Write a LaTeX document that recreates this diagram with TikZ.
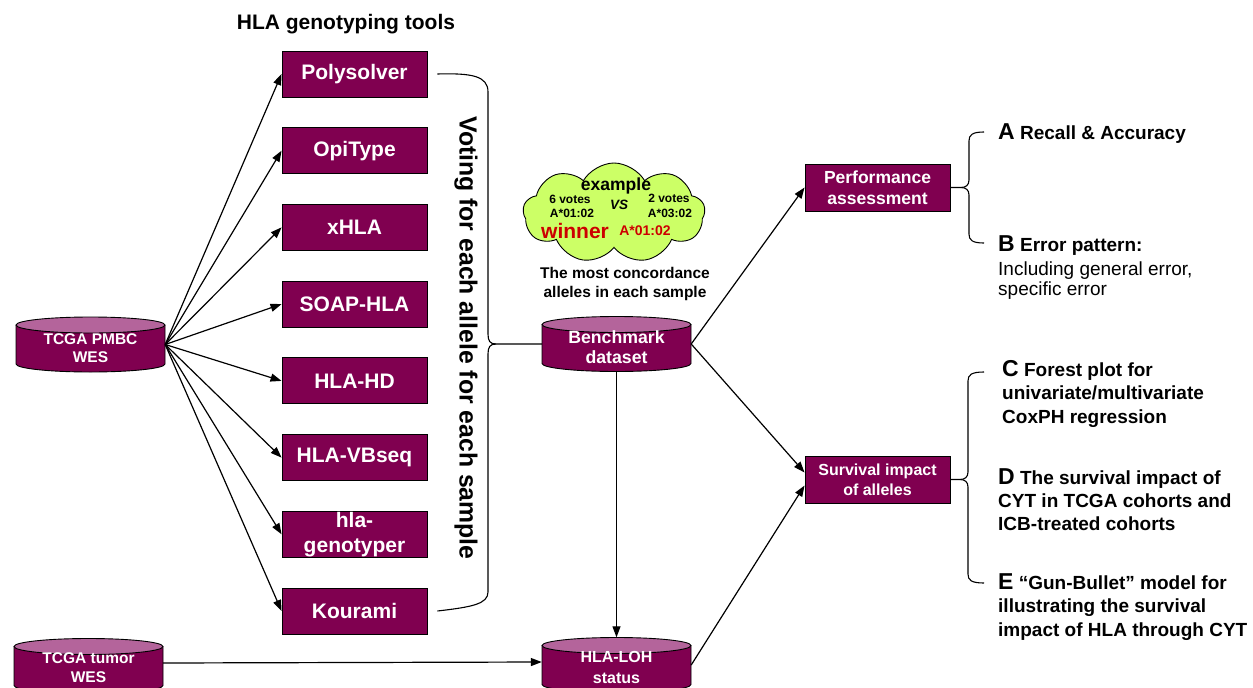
\documentclass[tikz,border=0pt]{standalone}
\usepackage{fontspec}
\setmainfont{Liberation Sans}
\usetikzlibrary{arrows.meta,shapes.symbols}
\definecolor{berry}{HTML}{800050}
\definecolor{cyltop}{HTML}{B4649B}
\definecolor{cloudg}{HTML}{CCFF66}
\definecolor{winred}{HTML}{CC0000}
\tikzset{
  tool/.style={rectangle, draw=black, line width=0.9, fill=berry, text=white,
    font=\bfseries\fontsize{21}{25}\selectfont, minimum width=145, minimum height=46,
    inner sep=0, align=center},
  outbox/.style={tool, font=\bfseries\fontsize{17.5}{21}\selectfont, minimum height=47},
  cylbox/.style={rectangle, draw=none, minimum width=149, minimum height=55, inner sep=0},
  cyltext/.style={text=white, align=center, inner sep=0},
  arr/.style={-{Triangle[length=11pt,width=8pt]}, line width=1.2, black},
  brc/.style={line width=1.1, black},
  rt/.style={anchor=base west, inner sep=0, font=\bfseries\fontsize{19}{19}\selectfont},
  rtn/.style={anchor=base west, inner sep=0, font=\fontsize{19}{19}\selectfont},
  ct/.style={inner sep=0, font=\bfseries\fontsize{12}{12}\selectfont},
}
\newcommand\cylnode[6]{% name, cx, cy, text shift, font, text
  \fill[berry] (#2-74.5,#3+19.5) -- (#2-74.5,#3-19.5)
     arc[start angle=180,end angle=360,x radius=74.5,y radius=8] -- (#2+74.5,#3+19.5) -- cycle;
  \draw[line width=0.9] (#2-74.5,#3+19.5) -- (#2-74.5,#3-19.5)
     arc[start angle=180,end angle=360,x radius=74.5,y radius=8] -- (#2+74.5,#3+19.5);
  \filldraw[fill=cyltop, line width=0.9] (#2,#3+19.5) ellipse [x radius=74.5, y radius=8];
  \node[cylbox] (#1) at (#2,#3) {};
  \node[cyltext, font=#5] (#1t) at (#2,#3-#4) {#6};
}
\newcommand\Lbig[1]{{\fontsize{23}{23}\selectfont #1}}
\begin{document}
\begin{tikzpicture}[x=1pt,y=1pt]
\useasboundingbox (0,0) rectangle (1253,-688);

% title
\node[inner sep=0, font=\bfseries\fontsize{21}{21}\selectfont] (title) at (346,-24) {HLA genotyping tools};

% tools
\node[tool] (poly) at (354.5,-74)    {Polysolver};
\node[tool] (opi)  at (354.5,-150.7) {OpiType};
\node[tool] (xhla) at (354.5,-227.4) {xHLA};
\node[tool] (soap) at (354.5,-304.1) {SOAP-HLA};
\node[tool] (hlahd) at (354.5,-380.9) {HLA-HD};
\node[tool] (vbs)  at (354.5,-457.6) {HLA-VBseq};
\node[tool] (hgt)  at (354.5,-534.3) {hla-\\genotyper};
\node[tool] (kour) at (354.5,-611)   {Kourami};

% cylinders
\cylnode{pmbc}{90.5}{-344.5}{3.5}{\bfseries\fontsize{15.5}{18}\selectfont}{TCGA PMBC\\WES}
\cylnode{bench}{616.5}{-344}{3.5}{\bfseries\fontsize{17.7}{20}\selectfont}{Benchmark\\dataset}
\cylnode{tumor}{88.5}{-666}{2}{\bfseries\fontsize{15.5}{19}\selectfont}{TCGA tumor\\WES}
\cylnode{loh}{616.5}{-665}{2}{\bfseries\fontsize{16}{21}\selectfont}{HLA-LOH\\status}

% arrows to tools
\foreach \t in {poly,opi,xhla,soap,hlahd,vbs,hgt,kour}
  \draw[arr] (pmbc.east) -- (\t.west);

% voting brace
\draw[brc] ([xshift=10]poly.east) .. controls (472,-73) and (488,-76) .. (488,-92)
  -- (488,-334) .. controls (488,-341) and (490,-344) .. (496,-344) -- (bench.west);
\draw[brc] (496,-344) .. controls (490,-344) and (488,-347) .. (488,-354)
  -- (488,-592) .. controls (488,-604) and (472,-607) .. ([xshift=10]kour.east);
\node[inner sep=0, rotate=-90, font=\bfseries\fontsize{24.8}{24.8}\selectfont] (vote) at (466,-338)
  {Voting for each allele for each sample};

% cloud
\node[cloud, cloud puffs=9, cloud puff arc=120, aspect=1.9, draw=black, line width=0.9,
  fill=cloudg, minimum width=182, minimum height=100, inner sep=0] (cl) at (614,-213) {};
\node[inner sep=0, font=\bfseries\fontsize{17.5}{17.5}\selectfont] (ex) at (616,-186) {example};
\node[ct] (v6) at (570,-199) {6 votes};
\node[ct] (a1) at (572,-213) {A*01:02};
\node[inner sep=0, font=\bfseries\itshape\fontsize{13.5}{13.5}\selectfont] (vs) at (619,-205) {VS};
\node[ct] (v2) at (669,-198) {2 votes};
\node[ct] (a3) at (670,-213) {A*03:02};
\node[inner sep=0, text=winred, font=\bfseries\fontsize{21}{21}\selectfont] (win) at (575,-231) {winner};
\node[inner sep=0, text=winred, font=\bfseries\fontsize{14}{14}\selectfont] (a1r) at (645,-231) {A*01:02};
\node[inner sep=0, align=center, font=\bfseries\fontsize{15.5}{18.5}\selectfont] (most) at (625,-284)
  {The most concordance\\alleles in each sample};

% outputs
\node[outbox] (perf) at (877.5,-187.5) {Performance\\assessment};
\node[outbox, font=\bfseries\fontsize{16}{20}\selectfont] (surv) at (877.5,-479.5) {Survival impact\\of alleles};

\draw[arr] (bench.east) -- (perf.west);
\draw[arr] (bench.east) -- ([yshift=7]surv.west);
\draw[arr] (loh.east) -- ([yshift=-6]surv.west);
\draw[arr] (bench.south) -- (loh.north);
\draw[arr] ([yshift=3]tumor.east) -- ([yshift=3]loh.west);

% right braces
\draw[brc] (perf.east) -- (961,-187.5) .. controls (966,-187.5) and (969,-185) .. (969,-180)
  -- (969,-141) .. controls (969,-135) and (972,-132) .. (984,-132);
\draw[brc] (961,-187.5) .. controls (966,-187.5) and (969,-190) .. (969,-195)
  -- (969,-234) .. controls (969,-240) and (972,-243) .. (984,-243);
\draw[brc] (surv.east) -- (960,-479.5) .. controls (965,-479.5) and (968,-477) .. (968,-472)
  -- (968,-381) .. controls (968,-375) and (971,-372) .. (984,-372);
\draw[brc] (960,-479.5) .. controls (965,-479.5) and (968,-482) .. (968,-487)
  -- (968,-574) .. controls (968,-580) and (971,-583) .. (984,-583);

% right texts
\node[rt] (ta) at (998,-139) {\Lbig{A} Recall \& Accuracy};
\node[rt] (tb) at (998,-251) {\Lbig{B} Error pattern:};
\node[rtn] (tb2) at (998,-275) {Including general error,};
\node[rtn] (tb3) at (998,-295) {specific error};
\node[rt] (tc) at (1002,-376) {\Lbig{C} Forest plot for};
\node[rt] (tc2) at (1002,-399.5) {univariate/multivariate};
\node[rt] (tc3) at (1002,-423) {CoxPH regression};
\node[rt] (td) at (998,-484) {\Lbig{D} The survival impact of};
\node[rt] (td2) at (998,-507) {CYT in TCGA cohorts and};
\node[rt] (td3) at (998,-530) {ICB-treated cohorts};
\node[rt] (te) at (998,-589) {\Lbig{E} “Gun-Bullet” model for};
\node[rt] (te2) at (998,-612) {illustrating the survival};
\node[rt] (te3) at (998,-636) {impact of HLA through CYT};
\end{tikzpicture}
\end{document}
